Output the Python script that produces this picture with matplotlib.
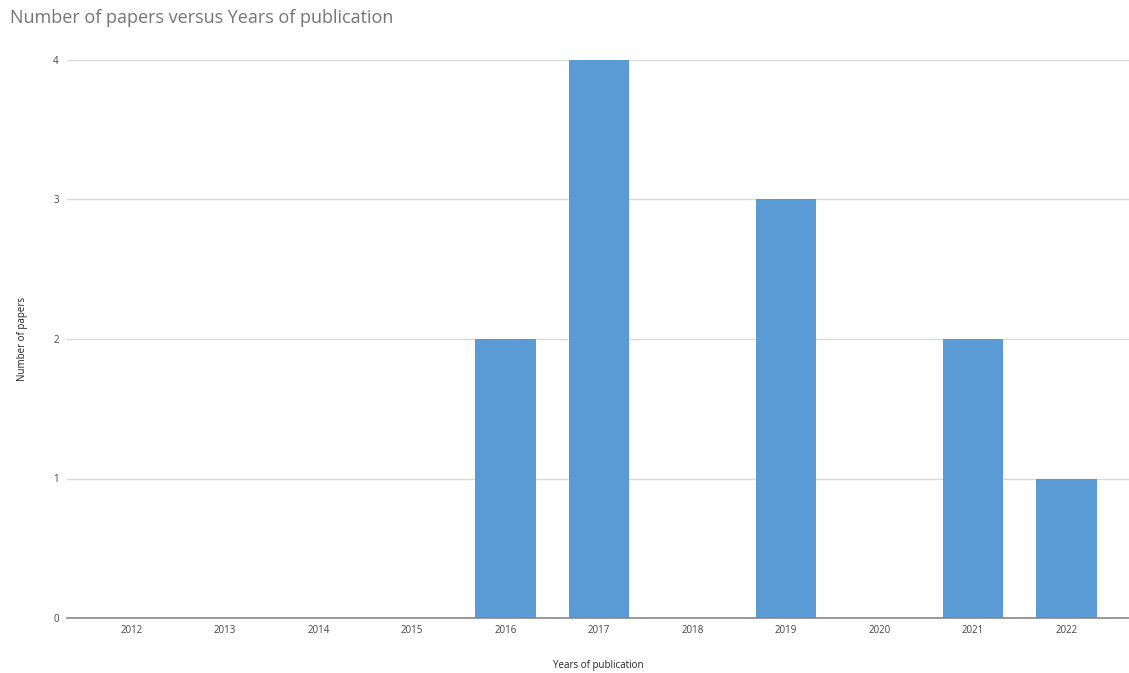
import matplotlib.pyplot as plt

# datos
years = ['2012', '2013', '2014', '2015', '2016', '2017', '2018', '2019', '2020', '2021', '2022']
papers = [0, 0, 0, 0, 2, 4, 0, 3, 0, 2, 1]

plt.rcParams['font.family'] = ['Open Sans', 'DejaVu Sans']

fig = plt.figure(figsize=(11.29, 6.73), dpi=100)
ax = fig.add_axes([67 / 1129, 1 - 618 / 673, 1 - 67 / 1129, (618 - 60) / 673])

x = list(range(len(years)))
ax.bar(x, papers, width=0.645, color='#5B9BD5', zorder=3)

ax.set_xlim(-0.69, 10.67)
ax.set_ylim(0, 4)
ax.set_yticks([0, 1, 2, 3, 4])
ax.set_xticks(x)
ax.set_xticklabels(years)
ax.grid(axis='y', color='#d9d9d9', linewidth=1, zorder=0)

for s in ['top', 'right', 'left']:
    ax.spines[s].set_visible(False)
ax.spines['bottom'].set_color('#888888')
ax.spines['bottom'].set_linewidth(1.2)
ax.spines['bottom'].set_zorder(4)

ax.tick_params(axis='both', length=0, labelsize=7, colors='#444444')
ax.tick_params(axis='x', pad=5)
ax.tick_params(axis='y', pad=6)

ax.set_xlabel('Years of publication', fontsize=7, color='#222222', labelpad=17)
ax.set_ylabel('Number of papers', fontsize=7, color='#222222', labelpad=18)

fig.text(10 / 1129, 1 - 18 / 673, 'Number of papers versus Years of publication',
         fontsize=13, color='#757575', va='center', ha='left')

fig.savefig('out.png', dpi=100)
